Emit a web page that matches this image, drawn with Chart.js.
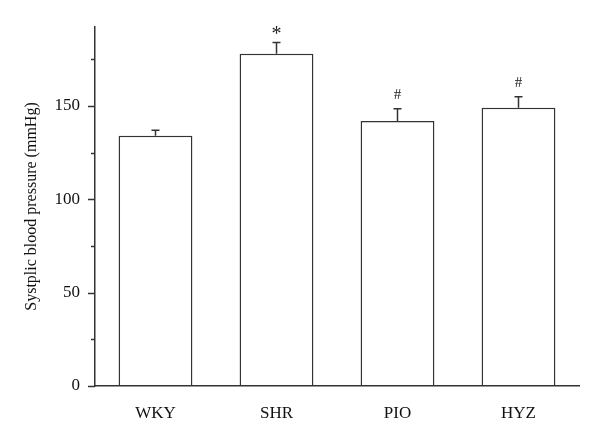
<!DOCTYPE html>
<html>
<head>
<meta charset="utf-8">
<script src="https://cdn.jsdelivr.net/npm/chart.js@4/dist/chart.umd.min.js"></script>
<style>
html,body{margin:0;padding:0;background:#fff;}
#wrap{width:600px;height:439px;}
</style>
</head>
<body>
<div id="wrap"><canvas id="c" width="600" height="439"></canvas></div>
<script>
const categories = ["WKY", "SHR", "PIO", "HYZ"];
const meanValues = [134, 178, 142, 149];
const errorValues = [3, 6, 6.5, 6];
const markLabels = ["", "*", "#", "#"];
const yMajorTicks = [0, 50, 100, 150];
const yMinorTicks = [25, 75, 125, 175];

const FONT = "'Liberation Serif', 'DejaVu Serif', serif";
const INK = '#333';

const errorBarPlugin = {
  id: 'errorBars',
  afterDatasetsDraw(chart) {
    const ctx = chart.ctx;
    const meta = chart.getDatasetMeta(0);
    const y = chart.scales.y;
    ctx.save();
    ctx.strokeStyle = INK;
    ctx.lineWidth = 1.5;
    meta.data.forEach((bar, i) => {
      const x = bar.x;
      const top = y.getPixelForValue(meanValues[i] + errorValues[i]);
      const base = y.getPixelForValue(meanValues[i]);
      ctx.beginPath();
      ctx.moveTo(x, base);
      ctx.lineTo(x, top);
      ctx.moveTo(x - 4, top);
      ctx.lineTo(x + 4, top);
      ctx.stroke();
      if (markLabels[i]) {
        ctx.fillStyle = '#222';
        ctx.textAlign = 'center';
        ctx.textBaseline = 'alphabetic';
        if (markLabels[i] === '*') {
          ctx.font = '20px ' + FONT;
          ctx.fillText('*', x, top - 2);
        } else {
          ctx.font = '15px ' + FONT;
          ctx.fillText('#', x, top - 10);
        }
      }
    });
    ctx.restore();
  }
};

const tickPlugin = {
  id: 'axisTicks',
  afterDraw(chart) {
    const ctx = chart.ctx;
    const y = chart.scales.y;
    const left = chart.chartArea.left;
    ctx.save();
    ctx.strokeStyle = INK;
    ctx.lineWidth = 1.5;
    ctx.beginPath();
    yMajorTicks.forEach(v => {
      const p = Math.round(y.getPixelForValue(v)) + 0.5;
      ctx.moveTo(left - 7, p);
      ctx.lineTo(left, p);
    });
    yMinorTicks.forEach(v => {
      const p = Math.round(y.getPixelForValue(v)) + 0.5;
      ctx.moveTo(left - 4, p);
      ctx.lineTo(left, p);
    });
    ctx.stroke();
    ctx.restore();
  }
};

new Chart(document.getElementById('c'), {
  type: 'bar',
  data: {
    labels: categories,
    datasets: [{
      data: meanValues,
      backgroundColor: '#ffffff',
      borderColor: INK,
      borderWidth: 1.5,
      borderSkipped: 'bottom',
      barPercentage: 0.61,
      categoryPercentage: 1.0
    }]
  },
  options: {
    responsive: false,
    animation: false,
    devicePixelRatio: 1,
    layout: { padding: { top: 27, right: 21, left: 0, bottom: 0 } },
    plugins: { legend: { display: false }, tooltip: { enabled: false } },
    scales: {
      x: {
        grid: { display: false, drawTicks: false },
        border: { display: true, color: INK, width: 1.5, z: 1 },
        ticks: { color: '#111', font: { family: FONT, size: 17 }, padding: 17 },
        afterFit(scale) { scale.height = 53; }
      },
      y: {
        min: 0,
        max: 192.3,
        grid: { display: false, drawTicks: false },
        border: { display: true, color: INK, width: 1.5, z: 1 },
        afterBuildTicks(scale) { scale.ticks = yMajorTicks.map(v => ({ value: v })); },
        ticks: { color: '#111', font: { family: FONT, size: 17 }, padding: 15 },
        title: {
          display: true,
          text: 'Systplic blood pressure (mmHg)',
          color: '#111',
          font: { family: FONT, size: 16 },
          padding: { top: 22, bottom: 0 }
        },
        afterFit(scale) { scale.width = 95; }
      }
    }
  },
  plugins: [errorBarPlugin, tickPlugin]
});
</script>
</body>
</html>
